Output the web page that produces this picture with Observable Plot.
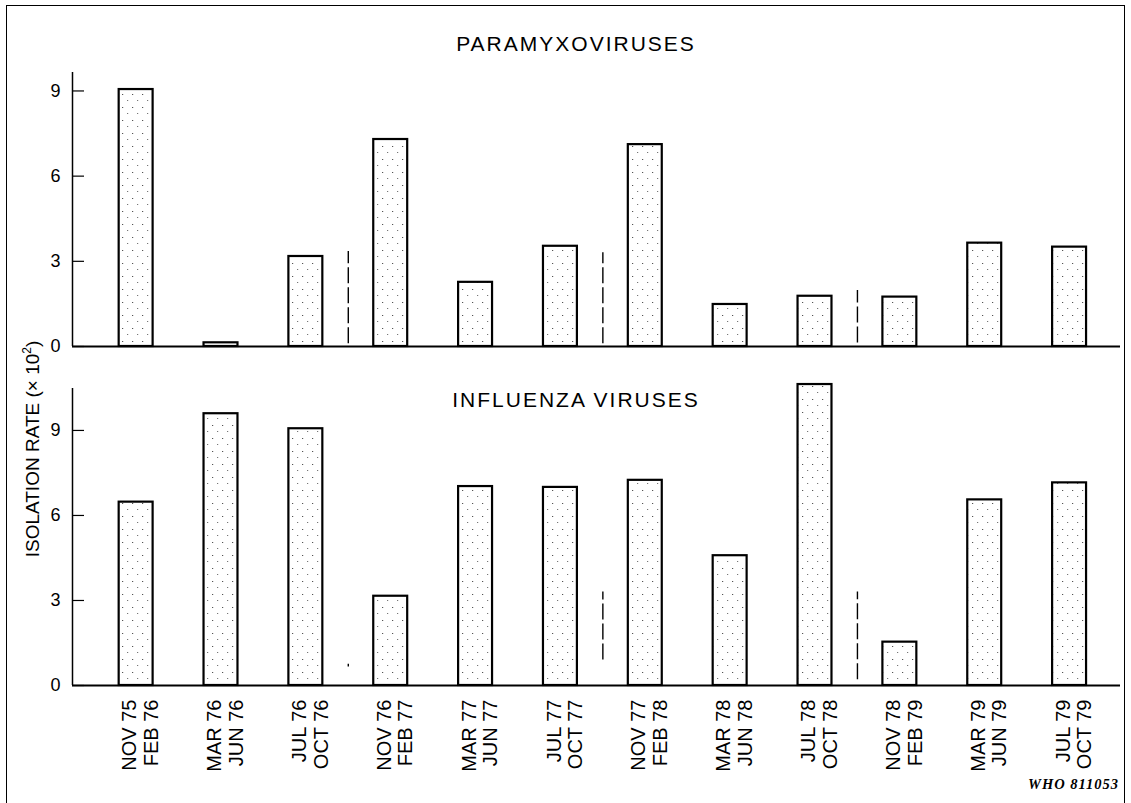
<!DOCTYPE html>
<html>
<head>
<meta charset="utf-8">
<script src="https://cdn.jsdelivr.net/npm/d3@7"></script>
<script src="https://cdn.jsdelivr.net/npm/@observablehq/plot@0.6"></script>
<style>
  html, body { margin: 0; padding: 0; background: #fff; }
  #root { position: relative; width: 1131px; height: 803px; overflow: hidden; background: #fff;
          font-family: "Liberation Sans", Arial, Helvetica, sans-serif; color: #000; }
  #frame { position: absolute; left: 6px; top: 5px; width: 1119px; height: 900px;
           border: 1.5px solid #000; box-sizing: border-box; }
  .panel { position: absolute; left: 0; }
  .title { position: absolute; font-size: 21px; letter-spacing: 2px; white-space: nowrap;
           transform: translate(-50%, -50%); }
  #ylabel { position: absolute; left: 33px; top: 449px; font-size: 19px; white-space: nowrap;
            transform: translate(-50%, -50%) rotate(-90deg); }
  #ylabel sup { font-size: 12px; vertical-align: 8px; line-height: 0; }
  #who { position: absolute; right: 12px; top: 776px; font-family: "Liberation Serif", "DejaVu Serif", serif;
         font-weight: bold; font-style: italic; font-size: 14.5px; letter-spacing: 1px; }
</style>
</head>
<body>
<svg width="0" height="0" style="position:absolute">
  <defs>
    <pattern id="stipple" width="10" height="13" patternUnits="userSpaceOnUse">
      <rect width="10" height="13" fill="#fff"></rect>
      <rect x="2" y="3" width="1.2" height="1" fill="#555"></rect>
      <rect x="7" y="9" width="1.2" height="1" fill="#777"></rect>
    </pattern>
  </defs>
</svg>
<div id="root">
  <div id="frame"></div>
  <div id="top" class="panel" style="top:0px"></div>
  <div id="bottom" class="panel" style="top:370px"></div>
  <div class="title" style="left:576px; top:44px">PARAMYXOVIRUSES</div>
  <div class="title" style="left:576px; top:400px">INFLUENZA VIRUSES</div>
  <div id="ylabel">ISOLATION RATE (× 10<sup>2</sup>)</div>
  <div id="who">WHO 811053</div>
</div>
<script>
// ---- data ----
const periods = [
  "NOV 75\nFEB 76", "MAR 76\nJUN 76", "JUL 76\nOCT 76", "NOV 76\nFEB 77",
  "MAR 77\nJUN 77", "JUL 77\nOCT 77", "NOV 77\nFEB 78", "MAR 78\nJUN 78",
  "JUL 78\nOCT 78", "NOV 78\nFEB 79", "MAR 79\nJUN 79", "JUL 79\nOCT 79"
];
const paramyxo  = [9.05, 0.13, 3.17, 7.29, 2.26, 3.53, 7.11, 1.48, 1.77, 1.74, 3.64, 3.50];
const influenza = [6.47, 9.59, 9.06, 3.15, 7.02, 6.99, 7.24, 4.58, 10.62, 1.53, 6.55, 7.15];
const yTicks = [0, 3, 6, 9];
// year separators (between JUL-OCT and NOV-FEB periods), drawn as broken rules
const sepPos = [2.5, 5.5, 8.5];
const sepParamyxoLo = [0.1, 0.1, 0.12];
const sepParamyxoHi = [3.35, 3.3, 1.97];
const sepInfluenzaLo = [0.65, 0.9, 0.2];
const sepInfluenzaHi = [0.75, 3.3, 3.3];

// ---- tables built from the arrays ----
const rows = periods.map((p, i) => ({i, period: p, paramyxo: paramyxo[i], influenza: influenza[i]}));
const sepsP = sepPos.map((x, k) => ({x, lo: sepParamyxoLo[k], hi: sepParamyxoHi[k]}));
const sepsI = sepPos.map((x, k) => ({x, lo: sepInfluenzaLo[k], hi: sepInfluenzaHi[k]}));

const xDomain = [-0.75, 11.6];
const W = 1131;
const font = '"Liberation Sans", Arial, Helvetica, sans-serif';

function panel(key, seps, {height, marginTop, marginBottom, yMax, xAxis}) {
  const marks = [
    Plot.rectY(rows, {x1: d => d.i - 0.2, x2: d => d.i + 0.2, y: key,
      fill: "url(#stipple)", stroke: "#000", strokeWidth: 2.2}),
    Plot.ruleX(seps, {x: "x", y1: "lo", y2: "hi", stroke: "#000", strokeWidth: 1.4, strokeDasharray: "16,4"}),
    Plot.ruleX([xDomain[0]], {stroke: "#000", strokeWidth: 1.5}),
    Plot.ruleY([0], {stroke: "#000", strokeWidth: 2}),
    Plot.axisY(yTicks, {tickSize: -12, tickPadding: 24, fontSize: 18, stroke: "#000", fill: "#000",
      strokeWidth: 1.2, label: null})
  ];
  if (xAxis) {
    marks.push(Plot.axisX(d3.range(periods.length), {
      tickFormat: i => periods[i], tickRotate: -90, tickSize: 0, tickPadding: 14,
      fontSize: 20, lineHeight: 1.08, dx: 4, fill: "#000", label: null
    }));
  }
  return Plot.plot({
    width: W, height, marginLeft: 72, marginRight: 11, marginTop, marginBottom,
    style: {fontFamily: font, color: "#000", background: "transparent", overflow: "visible"},
    x: {type: "linear", domain: xDomain, axis: xAxis ? undefined : null, label: null},
    y: {domain: [0, yMax], label: null},
    marks
  });
}

document.getElementById("top").append(panel("paramyxo", sepsP,
  {height: 370, marginTop: 72, marginBottom: 24, yMax: 9.65, xAxis: false}));
document.getElementById("bottom").append(panel("influenza", sepsI,
  {height: 433, marginTop: 18, marginBottom: 118, yMax: 10.48, xAxis: true}));
</script>
</body>
</html>
